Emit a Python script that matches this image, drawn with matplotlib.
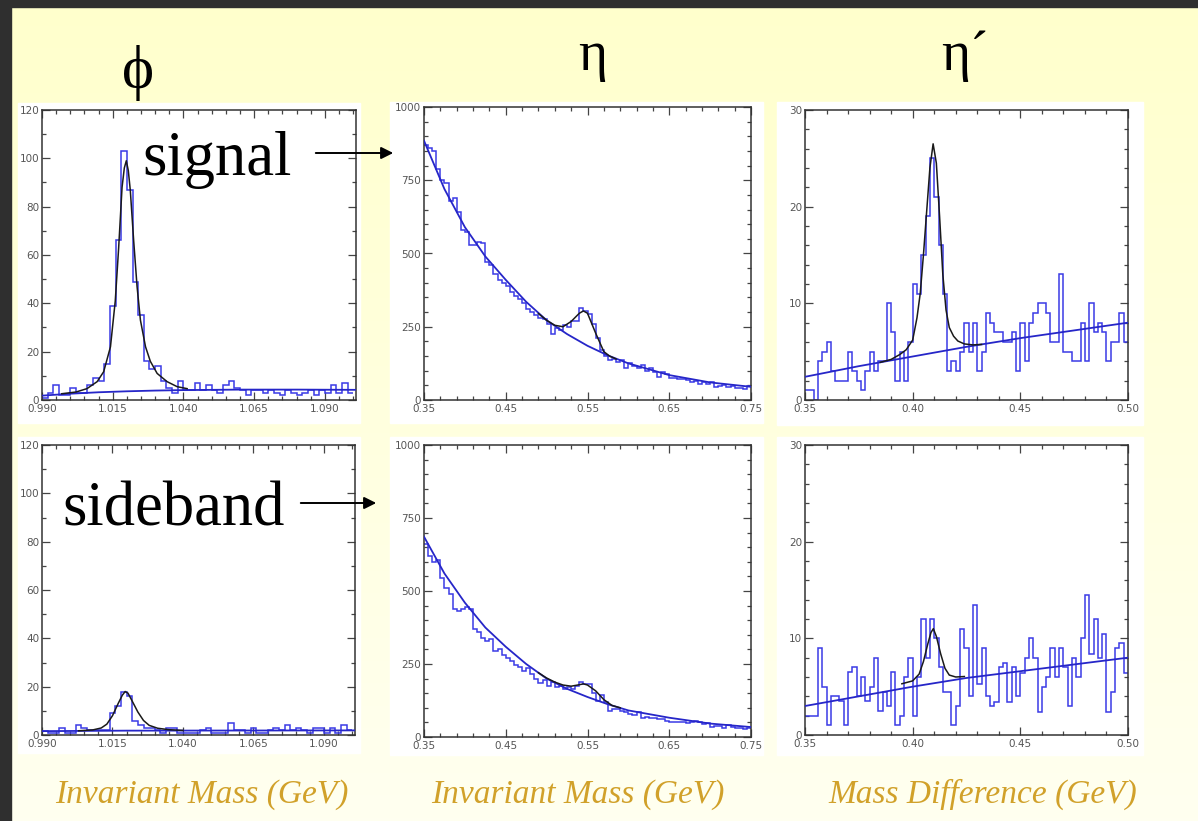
import numpy as np
import matplotlib
matplotlib.use('Agg')
import matplotlib.pyplot as plt
from matplotlib.patches import Rectangle
from matplotlib.ticker import MultipleLocator, FormatStrFormatter

W, H = 1198, 821
plt.rcParams['font.family'] = ['Liberation Sans Narrow', 'DejaVu Sans']

# ---------------- data ----------------
# phi : 0.990-1.100, 55 bins
phi_sig = [1, 3, 6, 2, 2, 5, 3, 3, 6, 9,
           8, 15, 39, 66, 103, 87, 49, 35, 16, 13,
           14, 8, 5, 3, 8, 4, 4, 7, 4, 6,
           4, 3, 6, 8, 5, 4, 2, 4, 4, 3,
           4, 3, 2, 4, 3, 2, 3, 4, 2, 4,
           3, 6, 3, 7, 3]
phi_sig_bg_x = [0.990, 1.000, 1.010, 1.020, 1.030, 1.040, 1.060, 1.080, 1.101]
phi_sig_bg_y = [1.8, 2.6, 3.2, 3.6, 3.9, 4.1, 4.3, 4.3, 4.2]
phi_sig_fit_x = [0.997, 1.002, 1.0059, 1.0095, 1.0118, 1.0142, 1.0159, 1.0171, 1.0183,
                 1.0191, 1.0198, 1.0205, 1.0212, 1.0224, 1.0236, 1.0248, 1.0266, 1.0283,
                 1.0307, 1.0342, 1.0378, 1.0413]
phi_sig_fit_y = [2.6, 3.3, 4.7, 7.6, 11.7, 22, 41, 63, 88,
                 96, 99, 95, 87, 66, 47, 33, 22, 16,
                 11, 7.6, 5.5, 4.7]

phi_sb = [1.5, 1, 1, 3, 1, 1, 4, 3, 2, 2,
          2, 2, 9, 12, 18, 16, 6, 4, 3, 3,
          2, 1, 3, 3, 1, 1, 1, 1, 2, 3,
          1, 1, 1, 5, 2, 2, 1, 3, 1, 1,
          2, 3, 2, 4, 2, 3, 2, 1, 3, 3,
          1, 3, 1, 4, 2]
phi_sb_bg_x = [0.990, 1.020, 1.101]
phi_sb_bg_y = [1.6, 1.8, 1.9]
phi_sb_fit_x = [1.003, 1.008, 1.011, 1.013, 1.015, 1.017, 1.0185, 1.0195, 1.0205, 1.022,
                1.024, 1.026, 1.028, 1.031, 1.035, 1.040]
phi_sb_fit_y = [1.75, 2.1, 2.9, 4.5, 8.0, 13.0, 16.5, 18.0, 17.3, 14.0,
                9.5, 6.0, 4.0, 2.8, 2.2, 1.9]

# eta : 0.35-0.75, 80 bins
eta_sig = [870, 860, 850, 790, 750, 740, 680, 690, 640, 580,
           575, 530, 530, 540, 535, 470, 460, 430, 410, 400,
           390, 370, 355, 345, 330, 310, 300, 290, 280, 275,
           260, 225, 245, 240, 255, 250, 270, 270, 315, 305,
           295, 260, 210, 170, 150, 135, 140, 130, 135, 110,
           125, 115, 110, 120, 100, 110, 95, 80, 95, 90,
           75, 75, 70, 70, 68, 60, 65, 55, 62, 55,
           60, 45, 48, 50, 45, 48, 40, 42, 38, 48]
eta_sig_bg_x = [0.35, 0.375, 0.40, 0.425, 0.45, 0.475, 0.50, 0.525, 0.55, 0.575,
                0.60, 0.65, 0.70, 0.75]
eta_sig_bg_y = [885, 720, 590, 490, 410, 335, 272, 225, 185, 152,
                125, 85, 60, 45]
eta_sig_fit_x = [0.49, 0.50, 0.51, 0.52, 0.53, 0.54, 0.545, 0.55, 0.56, 0.57, 0.577, 0.585]
eta_sig_fit_y = [295, 272, 255, 250, 268, 296, 304, 296, 228, 165, 150, 140]

eta_sb = [660, 620, 600, 605, 545, 510, 490, 440, 430, 440,
          445, 440, 370, 360, 340, 330, 335, 295, 300, 280,
          270, 260, 245, 240, 225, 235, 215, 200, 185, 195,
          175, 190, 170, 175, 165, 170, 165, 175, 190, 180,
          180, 150, 125, 145, 120, 90, 95, 95, 90, 85,
          80, 75, 85, 65, 70, 65, 65, 60, 62, 55,
          50, 52, 50, 52, 48, 50, 55, 50, 45, 48,
          35, 38, 38, 32, 40, 35, 32, 30, 28, 30]
eta_sb_bg_x = [0.35, 0.375, 0.40, 0.425, 0.45, 0.475, 0.50, 0.525, 0.55, 0.575,
               0.60, 0.65, 0.70, 0.75]
eta_sb_bg_y = [686, 560, 460, 375, 309, 250, 200, 165, 137, 112,
               91, 66, 46, 34]
eta_sb_fit_x = [0.49, 0.50, 0.51, 0.52, 0.53, 0.54, 0.545, 0.55, 0.56, 0.57, 0.58, 0.59]
eta_sb_fit_y = [220, 202, 188, 178, 174, 179, 182, 178, 158, 128, 108, 100]

# eta' : 0.35-0.50, 75 bins
etap_sig = [1, 1, 0, 4, 5, 6, 3, 2, 2, 2,
            5, 3, 2, 1, 3, 5, 3, 4, 4, 10,
            7, 2, 5, 2, 6, 12, 11, 15, 19, 25,
            21, 16, 11, 3, 4, 3, 5, 8, 5, 8,
            3, 5, 9, 8, 7, 7, 6, 6, 7, 3,
            8, 4, 8, 9, 10, 10, 9, 6, 6, 13,
            5, 5, 4, 4, 8, 4, 10, 7, 8, 7,
            4, 6, 6, 9, 6]
etap_sig_bg_x = [0.35, 0.375, 0.40, 0.425, 0.45, 0.475, 0.50]
etap_sig_bg_y = [2.4, 3.5, 4.5, 5.5, 6.4, 7.2, 8.0]
etap_sig_fit_x = [0.385, 0.390, 0.394, 0.397, 0.400, 0.402, 0.4035, 0.405, 0.4065, 0.408,
                  0.4095, 0.411, 0.4125, 0.414, 0.4155, 0.417, 0.419, 0.421, 0.424, 0.428, 0.432]
etap_sig_fit_y = [3.9, 4.2, 4.7, 5.2, 6.2, 8.5, 11, 15, 19.5, 24,
                  26.5, 24.5, 19, 13, 9.3, 7.5, 6.6, 6.1, 5.8, 5.7, 5.75]

etap_sb = [2, 2, 2, 9, 5, 1, 4, 4, 3.5, 1,
           6.5, 7, 4, 6, 3.5, 5, 8, 2.5, 4.5, 3,
           6.5, 1, 2, 6, 8, 2, 6, 12, 8, 12,
           10, 7, 4.5, 4.5, 1, 3, 11, 9, 4, 13.5,
           5.3, 9, 4, 3, 3.4, 7, 7.4, 3.4, 7, 4,
           6.4, 8, 10, 8, 2.4, 5, 6, 9, 6, 9,
           7, 3, 8, 6, 10, 14.5, 8.4, 12, 8, 10.5,
           2.4, 4.5, 9, 9.5, 6.4]
etap_sb_bg_x = [0.35, 0.375, 0.40, 0.425, 0.45, 0.475, 0.50]
etap_sb_bg_y = [3.0, 4.0, 5.0, 5.9, 6.6, 7.3, 8.0]
etap_sb_fit_x = [0.395, 0.400, 0.403, 0.405, 0.407, 0.4085, 0.4096, 0.411, 0.413, 0.415,
                 0.417, 0.420, 0.424]
etap_sb_fit_y = [5.3, 5.6, 6.3, 7.6, 9.4, 10.6, 11.0, 10.2, 8.4, 6.9,
                 6.2, 6.0, 6.05]

# ---------------- figure ----------------
fig = plt.figure(figsize=(W / 100, H / 100), dpi=100)

bg = fig.add_axes([0, 0, 1, 1], zorder=-5)
bg.set_xlim(0, W)
bg.set_ylim(H, 0)
bg.axis('off')
grad = np.linspace(0, 1, 256)[:, None]
top = np.array([255, 255, 204]) / 255
bot = np.array([255, 255, 240]) / 255
img = top[None, None, :] * (1 - grad[..., None]) + bot[None, None, :] * grad[..., None]
img = np.repeat(img, 2, axis=1)
bg.imshow(img, extent=[0, W, H, 0], aspect='auto', zorder=0)
bg.add_patch(Rectangle((0, 0), W, 7, color='#2f2f2f', zorder=1))
bg.add_patch(Rectangle((0, 0), 11, H, color='#2f2f2f', zorder=1))

white_boxes = [(18, 103, 360, 423), (390, 102, 763, 423), (777, 102, 1143, 425),
               (18, 437, 360, 753), (390, 437, 763, 755), (777, 437, 1143, 755)]
for x1, y1, x2, y2 in white_boxes:
    bg.add_patch(Rectangle((x1, y1), x2 - x1, y2 - y1, color='white', zorder=2))


def make_ax(x1, y1, x2, y2):
    return fig.add_axes([x1 / W, 1 - y2 / H, (x2 - x1) / W, (y2 - y1) / H])


HIST_C = '#3a3ae6'
BG_C = '#2626c8'
FIT_C = '#1a1a1a'


def panel(box, vals, lo, hi, xlim, ylim, xmaj, xmin, ymaj, ymin, xfmt,
          bgx, bgy, fx, fy):
    ax = make_ax(*box)
    edges = np.linspace(lo, hi, len(vals) + 1)
    ax.stairs(vals, edges, color=HIST_C, lw=1.1, baseline=None, zorder=2)
    ax.plot(bgx, bgy, color=BG_C, lw=1.3, zorder=3)
    ax.plot(fx, fy, color=FIT_C, lw=1.1, zorder=4)
    ax.set_xlim(*xlim)
    ax.set_ylim(*ylim)
    ax.xaxis.set_major_locator(MultipleLocator(xmaj, offset=xlim[0]))
    ax.xaxis.set_minor_locator(MultipleLocator(xmin, offset=xlim[0]))
    ax.yaxis.set_major_locator(MultipleLocator(ymaj))
    ax.yaxis.set_minor_locator(MultipleLocator(ymin))
    ax.xaxis.set_major_formatter(FormatStrFormatter(xfmt))
    ax.yaxis.set_major_formatter(FormatStrFormatter('%d'))
    ax.tick_params(which='both', direction='in', top=True, right=True,
                   color='#444444', width=0.9, labelsize=7.5, labelcolor='#555555')
    ax.tick_params(which='major', length=5.5, pad=3)
    ax.tick_params(which='minor', length=3)
    ax.tick_params(axis='y', pad=2)
    for s in ax.spines.values():
        s.set_color('#333333')
        s.set_linewidth(1.1)
    ax.set_facecolor('white')
    return ax


panel((42, 110, 356, 400), phi_sig, 0.990, 1.100, (0.990, 1.101), (0, 120),
      0.025, 0.005, 20, 10, '%.3f', phi_sig_bg_x, phi_sig_bg_y, phi_sig_fit_x, phi_sig_fit_y)
panel((424, 107, 751, 400), eta_sig, 0.35, 0.75, (0.35, 0.75), (0, 1000),
      0.1, 0.02, 250, 50, '%.2f', eta_sig_bg_x, eta_sig_bg_y, eta_sig_fit_x, eta_sig_fit_y)
panel((805, 110, 1128, 400), etap_sig, 0.35, 0.50, (0.35, 0.50), (0, 30),
      0.05, 0.01, 10, 2, '%.2f', etap_sig_bg_x, etap_sig_bg_y, etap_sig_fit_x, etap_sig_fit_y)
panel((42, 445, 355, 735), phi_sb, 0.990, 1.100, (0.990, 1.101), (0, 120),
      0.025, 0.005, 20, 10, '%.3f', phi_sb_bg_x, phi_sb_bg_y, phi_sb_fit_x, phi_sb_fit_y)
panel((424, 445, 751, 737), eta_sb, 0.35, 0.75, (0.35, 0.75), (0, 1000),
      0.1, 0.02, 250, 50, '%.2f', eta_sb_bg_x, eta_sb_bg_y, eta_sb_fit_x, eta_sb_fit_y)
panel((805, 445, 1128, 735), etap_sb, 0.35, 0.50, (0.35, 0.50), (0, 30),
      0.05, 0.01, 10, 2, '%.2f', etap_sb_bg_x, etap_sb_bg_y, etap_sb_fit_x, etap_sb_fit_y)

SERIF = ['Liberation Serif', 'DejaVu Serif']
# column titles
fig.text(138 / W, 1 - 88 / H, '\u03d5', fontsize=44, family=SERIF, ha='center', va='baseline')
fig.text(593 / W, 1 - 70 / H, '\u03b7', fontsize=40, family=SERIF, ha='center', va='baseline')
fig.text(965 / W, 1 - 70 / H, '\u03b7\u00b4', fontsize=40, family=SERIF, ha='center', va='baseline')

# row labels
fig.text(142 / W, 1 - 175 / H, 'signal', fontsize=45, family=SERIF, ha='left',
         va='baseline', zorder=10)
fig.text(62 / W, 1 - 525 / H, 'sideband', fontsize=45, family=SERIF, ha='left',
         va='baseline', zorder=10)
for (x1, x2, y) in [(313, 396, 153), (298, 379, 503)]:
    fig.add_artist(matplotlib.patches.FancyArrowPatch(
        (x1 / W, 1 - y / H), (x2 / W, 1 - y / H), transform=fig.transFigure,
        arrowstyle='-|>', mutation_scale=18, color='black', lw=1.4, zorder=10))

# axis labels
GOLD = '#D1A12A'
for xc, txt in [(202, 'Invariant Mass (GeV)'), (578, 'Invariant Mass (GeV)'),
                (983, 'Mass Difference (GeV)')]:
    fig.text(xc / W, 1 - 803 / H, txt, fontsize=24, family=SERIF, style='italic',
             color=GOLD, ha='center', va='baseline')

fig.savefig('out.png', dpi=100)
